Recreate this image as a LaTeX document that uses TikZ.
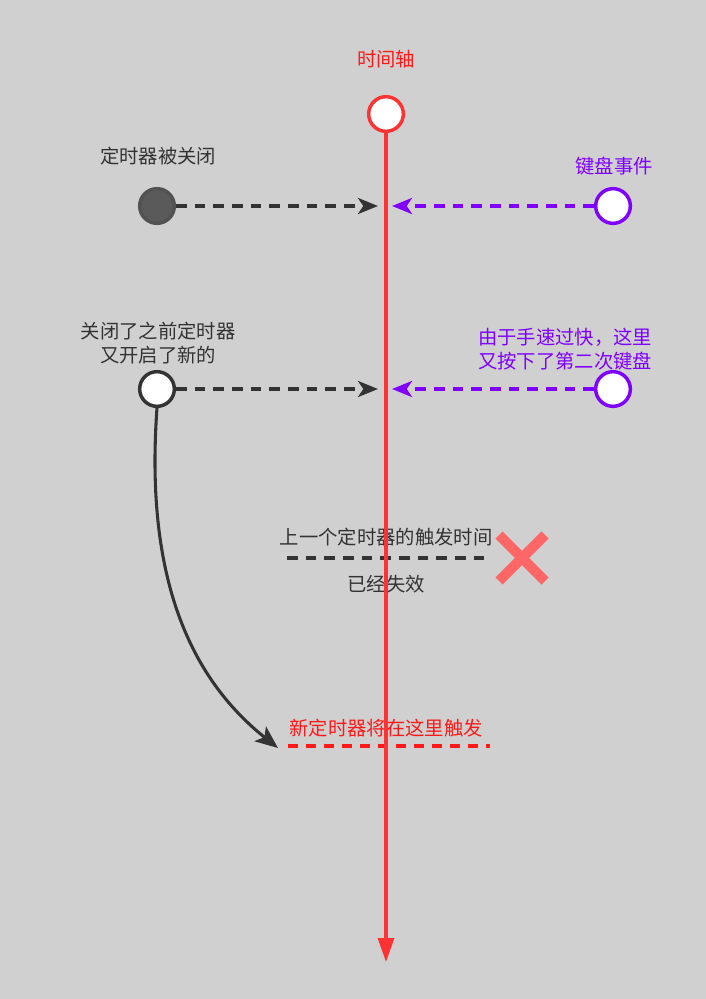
\documentclass[tikz,border=0pt]{standalone}
\usepackage{fontspec}
\setmainfont{Noto Sans CJK SC}
\usetikzlibrary{arrows.meta}
\definecolor{bg}{HTML}{D0D0D0}
\definecolor{axisred}{HTML}{FF3333}
\definecolor{txtred}{HTML}{FF1A1A}
\definecolor{dk}{HTML}{333333}
\definecolor{pur}{HTML}{8000FF}
\definecolor{xred}{HTML}{FF6666}
\definecolor{dkfill}{HTML}{5A5A5A}
\tikzset{
  lbl/.style={font=\fontsize{14.5pt}{17.5pt}\selectfont, inner sep=0pt, align=center},
  dot/.style={circle, minimum size=26pt, inner sep=0pt, line width=2.6pt},
  darrow/.style={dash pattern=on 8pt off 6pt, line width=2.6pt, -{Stealth[length=15pt,width=12pt,inset=4pt]}},
}
\begin{document}
\begin{tikzpicture}[x=0.75pt,y=-0.75pt]
\useasboundingbox (0,0) rectangle (706,999);
\fill[bg] (0,0) rectangle (706,999);

% labels
\node[lbl, text=txtred] (lt) at (386,59) {时间轴};
\node[lbl, text=dk] (l1) at (158,156) {定时器被关闭};
\node[lbl, text=pur] (l2) at (614,166) {键盘事件};
\node[lbl, text=dk] (l3) at (158,343) {关闭了之前定时器\\又开启了新的};
\node[lbl, text=pur] (l4) at (565,349) {由于手速过快，这里\\又按下了第二次键盘};

% circles
\node[dot, draw=axisred, fill=white] (top) at (386,114) {};
\node[dot, draw=dk!85, fill=dkfill] (c1) at (157,206) {};
\node[dot, draw=pur, fill=white] (k1) at (613,206) {};
\node[dot, draw=dk, fill=white] (c2) at (157,389) {};
\node[dot, draw=pur, fill=white] (k2) at (613,389) {};

\coordinate (t1) at (378,206);
\coordinate (u1) at (392,206);
\coordinate (t2) at (378,389);
\coordinate (u2) at (392,389);

\draw[darrow, dk] (c1.east) -- (t1);
\draw[darrow, pur] (k1.west) -- (u1);
\draw[darrow, dk] (c2.east) -- (t2);
\draw[darrow, pur] (k2.west) -- (u2);

% old trigger
\coordinate (o1) at (287,558);
\coordinate (o2) at (490,558);
\draw[dk, line width=2.6pt, dash pattern=on 8pt off 6pt] (o1) -- (o2);
\node[lbl, text=dk] (lo1) at (386,537) {上一个定时器的触发时间};
\node[lbl, text=dk] (lo2) at (386,584) {已经失效};

% X mark
\coordinate (xa) at (499,535);
\coordinate (xb) at (545,581);
\coordinate (xc) at (499,581);
\coordinate (xd) at (545,535);
\draw[xred, line width=7.5pt] (xa) -- (xb);
\draw[xred, line width=7.5pt] (xc) -- (xd);

% new trigger
\coordinate (n1) at (288,746);
\coordinate (n2) at (490,746);
\draw[txtred, line width=2.6pt, dash pattern=on 7.5pt off 6pt] (n1) -- (n2);
\node[lbl, text=txtred] (ln) at (386,728) {新定时器将在这里触发};

% curve
\coordinate (ce) at (278,748);
\draw[dk, line width=2.3pt, -{Stealth[length=17pt,width=14pt,inset=4pt]}] (c2.south) .. controls (146,560) and (180,670) .. (ce);

% axis
\coordinate (bot) at (386,962);
\draw[axisred, line width=2.3pt, -{Stealth[length=18pt,width=12pt,inset=0pt]}] (top.south) -- (bot);
\end{tikzpicture}
\end{document}
